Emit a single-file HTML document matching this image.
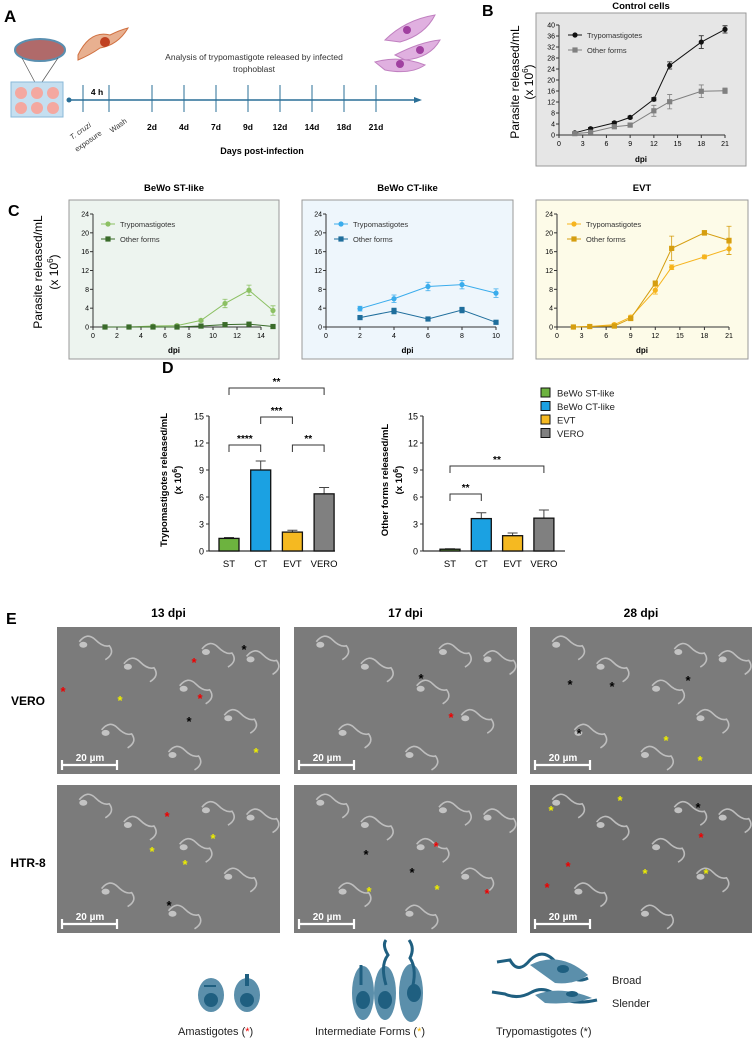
<!DOCTYPE html>
<html><head><meta charset="utf-8">
<style>
html,body{margin:0;padding:0;background:#fff;}
svg{display:block;font-family:"Liberation Sans",Arial,sans-serif;}
</style></head>
<body>
<svg id="fig" width="752" height="1040" viewBox="0 0 752 1040" xmlns="http://www.w3.org/2000/svg">
<!-- Panel A -->
<g>
<text x="4" y="22" font-size="17" font-weight="bold">A</text>
<ellipse cx="40" cy="50" rx="25" ry="11" fill="#b06a6a" stroke="#5a8fb0" stroke-width="2"/>
<line x1="22" y1="58" x2="38" y2="88" stroke="#555" stroke-width="0.7"/>
<line x1="58" y1="58" x2="38" y2="88" stroke="#555" stroke-width="0.7"/>
<rect x="11" y="82" width="52" height="35" fill="#c5dff0" stroke="#8ab8d8"/>
<g fill="#f4a8a0">
<circle cx="21" cy="93" r="6"/><circle cx="37" cy="93" r="6"/><circle cx="53" cy="93" r="6"/>
<circle cx="21" cy="108" r="6"/><circle cx="37" cy="108" r="6"/><circle cx="53" cy="108" r="6"/>
</g>
<path d="M78 55 Q90 30 110 35 Q120 30 128 28 Q118 45 100 48 Q90 55 78 60 Z" fill="#e8b090" stroke="#d07040"/>
<circle cx="105" cy="42" r="5" fill="#c04020"/>
<g fill="#e0b0e0" stroke="#c080c0">
<path d="M385 40 Q405 20 435 15 Q425 35 400 42 Z"/>
<path d="M395 55 Q420 42 440 40 Q430 58 405 60 Z"/>
<path d="M375 62 Q400 55 425 65 Q410 75 385 70 Z"/>
</g>
<g fill="#a040a0"><circle cx="407" cy="30" r="4"/><circle cx="420" cy="50" r="4"/><circle cx="400" cy="64" r="4"/></g>
<text x="254" y="60" font-size="8.5" text-anchor="middle" fill="#333">Analysis of trypomastigote released by infected</text>
<text x="254" y="72" font-size="8.5" text-anchor="middle" fill="#333">trophoblast</text>
<line x1="69" y1="100" x2="418" y2="100" stroke="#2a6f97" stroke-width="1.5"/>
<path d="M422 100 L414 97 L414 103 Z" fill="#2a6f97"/>
<circle cx="69" cy="100" r="2.5" fill="#2a6f97"/>
<g id="aticks"></g>
<text x="97" y="95" font-size="8.5" font-weight="bold" text-anchor="middle">4 h</text>
<text transform="translate(72,140) rotate(-35)" font-size="7.5" font-style="italic" fill="#333">T. cruzi</text>
<text transform="translate(77,152) rotate(-35)" font-size="7.5" fill="#333">exposure</text>
<text transform="translate(112,133) rotate(-35)" font-size="7.5" fill="#333">Wash</text>
<text x="262" y="154" font-size="9" font-weight="bold" text-anchor="middle">Days post-infection</text>
</g>
<text x="482" y="16" font-size="16" font-weight="bold">B</text>
<text x="8" y="216" font-size="16" font-weight="bold">C</text>
<text x="162" y="373" font-size="16" font-weight="bold">D</text>
<text x="6" y="624" font-size="16" font-weight="bold">E</text>
<g id="charts"></g>
<g id="sem"></g>
<!-- Bottom legend schematic -->
<g fill="#5b8fab">
<ellipse cx="211" cy="995" rx="13" ry="17"/><ellipse cx="247" cy="995" rx="13" ry="17"/>
<g fill="#1f5f80"><circle cx="211" cy="1000" r="7"/><circle cx="247" cy="1000" r="7"/>
<rect x="204" y="985" width="12" height="2"/><rect x="245" y="974" width="4" height="12"/></g>
<ellipse cx="363" cy="993" rx="11" ry="27"/><ellipse cx="385" cy="993" rx="11" ry="27"/><ellipse cx="411" cy="993" rx="12" ry="29"/>
<g fill="#1f5f80"><ellipse cx="363" cy="1000" rx="7" ry="9"/><ellipse cx="385" cy="1000" rx="7" ry="9"/><ellipse cx="414" cy="993" rx="7" ry="9"/></g>
<g stroke="#1f5f80" stroke-width="3" fill="none">
<path d="M361 985 L361 965"/><path d="M386 985 Q380 965 388 955 Q382 945 386 940"/><path d="M411 993 Q418 970 410 958 Q415 948 409 940"/>
<path d="M497 962 L510 960 Q518 975 530 960 Q545 945 560 968 Q575 985 588 978"/>
<path d="M492 992 L505 994 Q518 1000 532 992 Q545 985 560 998 Q575 1005 597 1000"/>
</g>
<path d="M530 965 Q560 950 588 975 Q575 985 555 983 Z"/>
<path d="M535 995 Q560 985 592 998 Q570 1005 545 1003 Z"/>
<g fill="#1f5f80"><ellipse cx="563" cy="969" rx="6" ry="4"/><ellipse cx="572" cy="994" rx="6" ry="3"/></g>
</g>
<text x="612" y="984" font-size="11" fill="#222">Broad</text>
<text x="612" y="1007" font-size="11" fill="#222">Slender</text>
<text x="178" y="1035" font-size="11" fill="#222">Amastigotes (<tspan fill="#e00">*</tspan>)</text>
<text x="315" y="1035" font-size="11" fill="#222">Intermediate Forms (<tspan fill="#f0b000">*</tspan>)</text>
<text x="496" y="1035" font-size="11" fill="#222">Trypomastigotes (*)</text>
</svg>
<script>
// ---- Panel A timeline data
const aTickLabels = ["2d","4d","7d","9d","12d","14d","18d","21d"];
// ---- Panel B data
const bDays = [2,4,7,9,12,14,18,21];
const bTryp = [0.8,2.3,4.4,6.4,13,25.3,33.8,38.4];
const bTrypErr = [0.3,0.4,0.5,0.5,0.6,1.3,2.3,1.3];
const bOther = [0.5,1.0,3.0,3.6,8.8,12.1,15.9,16.1];
const bOtherErr = [0.2,0.3,0.5,0.4,2.0,2.6,2.3,1.0];
const bXTicks = [0,3,6,9,12,15,18,21];
const bYTicks = [0,4,8,12,16,20,24,28,32,36,40];
// ---- Panel C data
const stDays = [1,3,5,7,9,11,13,15];
const stTryp = [0,0,0.2,0.3,1.4,5.0,7.8,3.5];
const stTrypErr = [0,0,0.1,0.2,0.3,0.9,1.1,1.0];
const stOther = [0,0,0,0,0.2,0.5,0.6,0.1];
const stOtherErr = [0,0,0,0,0.1,0.2,0.3,0.1];
const stXTicks = [0,2,4,6,8,10,12,14];
const ctDays = [2,4,6,8,10];
const ctTryp = [3.9,6.0,8.6,9.0,7.2];
const ctTrypErr = [0.5,0.8,0.9,0.9,0.9];
const ctOther = [2.0,3.4,1.7,3.6,1.0];
const ctOtherErr = [0.3,0.6,0.3,0.6,0.3];
const ctXTicks = [0,2,4,6,8,10];
const evtDays = [2,4,7,9,12,14,18,21];
const evtTryp = [0,0.1,0.5,2.1,7.8,12.7,14.9,16.6];
const evtTrypErr = [0,0,0.3,0.4,0.8,0.5,0.4,1.2];
const evtOther = [0,0.1,0.2,1.8,9.3,16.7,20.0,18.4];
const evtOtherErr = [0,0,0,0.3,0.5,2.6,0.5,3.0];
const evtXTicks = [0,3,6,9,12,15,18,21];
const cYTicks = [0,4,8,12,16,20,24];
// ---- Panel D data
const dCategories = ["ST","CT","EVT","VERO"];
const dTryp = [1.4,9.0,2.1,6.35];
const dTrypErr = [0.1,1.0,0.2,0.7];
const dOther = [0.2,3.6,1.7,3.65];
const dOtherErr = [0.05,0.65,0.3,0.9];
const dYTicks = [0,3,6,9,12,15];
const dLegend = ["BeWo ST-like","BeWo CT-like","EVT","VERO"];

const NS="http://www.w3.org/2000/svg";
function mk(parent,tag,attrs,text){const e=document.createElementNS(NS,tag);for(const k in attrs)e.setAttribute(k,attrs[k]);if(text!==undefined)e.textContent=text;parent.appendChild(e);return e;}

// Timeline ticks
(function(){
  const g=document.getElementById('aticks');
  const xs=[83,109];
  xs.forEach(x=>{const l=mk(g,'line',{x1:x,y1:85,x2:x,y2:112,stroke:'#2a6f97','stroke-width':1});
    
    });
  const x0=152,step=(376-152)/7;
  aTickLabels.forEach((t,i)=>{const x=x0+i*step;
    const l=mk(g,'line',{x1:x,y1:85,x2:x,y2:112,stroke:'#2a6f97','stroke-width':1});
    
    
    const tx=mk(g,'text',{x:x,y:130,'font-size':8.5,'font-weight':'bold','text-anchor':'middle'},t);
    
    });
})();

const charts=document.getElementById('charts');

function lineChart(o){
  const g=mk(charts,'g',{});
  
  
  const bg=mk(g,'rect',{x:o.box[0],y:o.box[1],width:o.box[2],height:o.box[3],fill:o.bg,stroke:'#999','stroke-width':1});
  
  
  const sx=v=>o.x0+(v-o.xmin)/(o.xmax-o.xmin)*(o.x1-o.x0);
  const sy=v=>o.y0-(v-o.ymin)/(o.ymax-o.ymin)*(o.y0-o.y1);
  const ax=mk(g,'line',{x1:o.x0,y1:o.y0,x2:sx(o.xTicks[o.xTicks.length-1]),y2:o.y0,stroke:'#333'});
  
  
  const ay=mk(g,'line',{x1:o.x0,y1:o.y0,x2:o.x0,y2:sy(o.yTicks[o.yTicks.length-1]),stroke:'#333'});
  
  
  o.xTicks.forEach(t=>{mk(g,'line',{x1:sx(t),y1:o.y0,x2:sx(t),y2:o.y0+3,stroke:'#333'});
    const tx=mk(g,'text',{x:sx(t),y:o.y0+11,'font-size':7,'text-anchor':'middle'},t);
    
    });
  o.yTicks.forEach(t=>{mk(g,'line',{x1:o.x0-3,y1:sy(t),x2:o.x0,y2:sy(t),stroke:'#333'});
    const tx=mk(g,'text',{x:o.x0-4,y:sy(t)+2.5,'font-size':7,'text-anchor':'end'},t);
    
    });
  const xt=mk(g,'text',{x:(o.box[0]+o.box[0]+o.box[2])/2,y:o.dpiY,'font-size':8,'font-weight':'bold','text-anchor':'middle'},'dpi');
  
  
  const tt=mk(g,'text',{x:(o.box[0]+o.box[0]+o.box[2])/2,y:o.titleY,'font-size':9.5,'font-weight':'bold','text-anchor':'middle'},o.title);
  
  
  o.series.forEach((s,si)=>{
    const sg=mk(g,'g',{});
    
    
    const pts=s.x.map((d,i)=>sx(d)+','+sy(s.y[i])).join(' ');
    mk(sg,'polyline',{points:pts,fill:'none',stroke:s.color,'stroke-width':1});
    s.x.forEach((d,i)=>{
      const e=s.err[i];
      if(e>0){const eb=mk(sg,'path',{d:`M${sx(d)} ${sy(s.y[i]-e)}V${sy(s.y[i]+e)}M${sx(d)-2.5} ${sy(s.y[i]+e)}h5M${sx(d)-2.5} ${sy(s.y[i]-e)}h5`,stroke:s.color,'stroke-width':0.8,fill:'none'});
        
        }
      let m;
      if(s.shape==='circle') m=mk(sg,'circle',{cx:sx(d),cy:sy(s.y[i]),r:2.6,fill:s.color});
      else m=mk(sg,'rect',{x:sx(d)-2.6,y:sy(s.y[i])-2.6,width:5.2,height:5.2,fill:s.color});
      
      
    });
    const ly=o.legY+si*15;
    mk(sg,'line',{x1:o.legX-7,y1:ly,x2:o.legX+7,y2:ly,stroke:s.color});
    if(s.shape==='circle') mk(sg,'circle',{cx:o.legX,cy:ly,r:2.6,fill:s.color});
    else mk(sg,'rect',{x:o.legX-2.6,y:ly-2.6,width:5.2,height:5.2,fill:s.color});
    const lt=mk(sg,'text',{x:o.legX+12,y:ly+3,'font-size':7.5,fill:'#333'},s.label);
    
    
  });
}

lineChart({name:'control-cells-chart',box:[536,13,210,153],bg:'#e6e6e6',x0:559,x1:725,xmin:0,xmax:21,y0:135,y1:25,ymin:0,ymax:40,
  xTicks:bXTicks,yTicks:bYTicks,dpiY:162,titleY:9,title:'Control cells',legX:575,legY:35,
  series:[{key:'trypomastigotes',x:bDays,y:bTryp,err:bTrypErr,color:'#111',shape:'circle',label:'Trypomastigotes'},
          {key:'other-forms',x:bDays,y:bOther,err:bOtherErr,color:'#808080',shape:'square',label:'Other forms'}]});
lineChart({name:'bewo-st-like-chart',box:[69,200,210,159],bg:'#edf4ef',x0:93,x1:261,xmin:0,xmax:14,y0:327,y1:214,ymin:0,ymax:24,
  xTicks:stXTicks,yTicks:cYTicks,dpiY:353,titleY:191,title:'BeWo ST-like',legX:108,legY:224,
  series:[{key:'trypomastigotes',x:stDays,y:stTryp,err:stTrypErr,color:'#8cc063',shape:'circle',label:'Trypomastigotes'},
          {key:'other-forms',x:stDays,y:stOther,err:stOtherErr,color:'#3a6b2a',shape:'square',label:'Other forms'}]});
lineChart({name:'bewo-ct-like-chart',box:[302,200,211,159],bg:'#eef6fc',x0:326,x1:496,xmin:0,xmax:10,y0:327,y1:214,ymin:0,ymax:24,
  xTicks:ctXTicks,yTicks:cYTicks,dpiY:353,titleY:191,title:'BeWo CT-like',legX:341,legY:224,
  series:[{key:'trypomastigotes',x:ctDays,y:ctTryp,err:ctTrypErr,color:'#3aacec',shape:'circle',label:'Trypomastigotes'},
          {key:'other-forms',x:ctDays,y:ctOther,err:ctOtherErr,color:'#1f6e9c',shape:'square',label:'Other forms'}]});
lineChart({name:'evt-chart',box:[536,200,212,159],bg:'#fdfbe8',x0:557,x1:729,xmin:0,xmax:21,y0:327,y1:214,ymin:0,ymax:24,
  xTicks:evtXTicks,yTicks:cYTicks,dpiY:353,titleY:191,title:'EVT',legX:574,legY:224,
  series:[{key:'trypomastigotes',x:evtDays,y:evtTryp,err:evtTrypErr,color:'#f6b41e',shape:'circle',label:'Trypomastigotes'},
          {key:'other-forms',x:evtDays,y:evtOther,err:evtOtherErr,color:'#d59e10',shape:'square',label:'Other forms'}]});

// Y-axis titles
function rotText(x,y,size,txt,name,bold){const t=mk(charts,'text',{transform:`translate(${x},${y}) rotate(-90)`,'font-size':size,'text-anchor':'middle','font-weight':bold?'bold':'normal'});
  t.innerHTML=txt;
  
  }
rotText(519,82,12,'Parasite released/mL','control-y-axis-title');
rotText(533,82,12,'(x 10<tspan font-size="8" dy="-5">6</tspan><tspan dy="5">)</tspan>','control-y-axis-unit');
rotText(42,272,12,'Parasite released/mL','c-y-axis-title');
rotText(58,272,12,'(x 10<tspan font-size="8" dy="-5">6</tspan><tspan dy="5">)</tspan>','c-y-axis-unit');
rotText(167,480,9.5,'Trypomastigotes released/mL','d-left-y-axis-title',true);
rotText(181,480,9.5,'(x 10<tspan font-size="7" dy="-4">6</tspan><tspan dy="4">)</tspan>','d-left-y-axis-unit',true);
rotText(388,480,9.5,'Other forms released/mL','d-right-y-axis-title',true);
rotText(402,480,9.5,'(x 10<tspan font-size="7" dy="-4">6</tspan><tspan dy="4">)</tspan>','d-right-y-axis-unit',true);

// Bar charts
const barColors=['#6db33f','#1ba1e2','#f5b921','#808080'];
function barChart(o){
  const g=mk(charts,'g',{});
  
  
  const sy=v=>551-v/15*135;
  const sx=i=>o.cx0+i*o.step;
  const ax=mk(g,'line',{x1:o.ax,y1:551,x2:o.ax+o.w,y2:551,stroke:'#333','stroke-width':1.2});
  
  
  const ay=mk(g,'line',{x1:o.ax,y1:551,x2:o.ax,y2:416,stroke:'#333','stroke-width':1.2});
  
  
  dYTicks.forEach(t=>{mk(g,'line',{x1:o.ax-3,y1:sy(t),x2:o.ax,y2:sy(t),stroke:'#333'});
    const tx=mk(g,'text',{x:o.ax-5,y:sy(t)+3.5,'font-size':9,'text-anchor':'end'},t);
    
    });
  dCategories.forEach((c,i)=>{
    const x=sx(i),v=o.vals[i],e=o.errs[i];
    const eb=mk(g,'path',{d:`M${x} ${sy(v)}V${sy(v+e)}M${x-5} ${sy(v+e)}h10`,stroke:'#444','stroke-width':1,fill:'none'});
    
    
    const b=mk(g,'rect',{x:x-10,y:sy(v),width:20,height:551-sy(v),fill:barColors[i],stroke:'#111','stroke-width':1.3});
    
    
    const tx=mk(g,'text',{x:x,y:567,'font-size':9.5,'text-anchor':'middle'},c);
    
    
  });
  o.sig.forEach(s=>{
    const [a,b,y,label]=s;
    const p=mk(g,'path',{d:`M${sx(a)} ${y+7}V${y}H${sx(b)}V${y+7}`,stroke:'#333',fill:'none','stroke-width':1});
    
    
    const t=mk(g,'text',{x:(sx(a)+sx(b))/2,y:y-3,'font-size':10,'font-weight':'bold','text-anchor':'middle'},label);
    
    
  });
}
barChart({name:'trypomastigotes-bar-chart',ax:209,w:126,cx0:229,step:31.7,vals:dTryp,errs:dTrypErr,
  sig:[[0,3,388,'**'],[1,2,417,'***'],[0,1,445,'****'],[2,3,445,'**']]});
barChart({name:'other-forms-bar-chart',ax:423,w:142,cx0:450,step:31.3,vals:dOther,errs:dOtherErr,
  sig:[[0,3,466,'**'],[0,1,494,'**']]});
dLegend.forEach((l,i)=>{
  const y=393+i*13.5;
  const r=mk(charts,'rect',{x:541,y:y-5,width:9,height:9,fill:barColors[i],stroke:'#111'});
  
  
  const t=mk(charts,'text',{x:557,y:y+3.5,'font-size':9.5,fill:'#222'},l);
  
  
});

// SEM images (panel E)
const sem=document.getElementById('sem');
const cols=[[57,223],[294,223],[530,222]];
const rows=[[627,147],[785,148]];
const colTitles=['13 dpi','17 dpi','28 dpi'];
colTitles.forEach((t,i)=>{const tx=mk(sem,'text',{x:cols[i][0]+cols[i][1]/2,y:617,'font-size':12,'font-weight':'bold','text-anchor':'middle'},t);
  
  });
[['VERO',705],['HTR-8',867]].forEach(r=>{const tx=mk(sem,'text',{x:28,y:r[1],'font-size':12,'font-weight':'bold','text-anchor':'middle'},r[0]);
  
  });
const stars=[
 [[244,649,'#000'],[194,662,'#e00'],[63,691,'#e00'],[120,700,'#ee0'],[200,698,'#e00'],[189,721,'#000'],[256,752,'#ee0'],
  [421,678,'#000'],[451,717,'#e00'],
  [570,684,'#000'],[612,686,'#000'],[688,680,'#000'],[579,733,'#000'],[666,740,'#ee0'],[700,760,'#ee0']],
 [[167,816,'#e00'],[213,838,'#ee0'],[152,851,'#ee0'],[185,864,'#ee0'],[169,905,'#000'],
  [436,846,'#e00'],[366,854,'#000'],[412,872,'#000'],[369,891,'#ee0'],[437,889,'#ee0'],[487,893,'#e00'],
  [551,810,'#ee0'],[620,800,'#ee0'],[698,807,'#000'],[701,837,'#e00'],[568,866,'#e00'],[547,887,'#e00'],[645,873,'#ee0'],[706,873,'#ee0']]
];
rows.forEach((r,ri)=>cols.forEach((c,ci)=>{
  const g=mk(sem,'g',{});
  
  
  mk(g,'rect',{x:c[0],y:r[0],width:c[1],height:r[1],fill:ri===1&&ci===2?'#6e6e6e':'#7b7b7b'});
  // parasite-like squiggles (decorative)
  const ps=[[0.1,0.1],[0.3,0.25],[0.55,0.4],[0.75,0.6],[0.2,0.7],[0.85,0.2],[0.5,0.85],[0.65,0.15]];
  ps.forEach((p,k)=>{const x=c[0]+p[0]*c[1],y=r[0]+p[1]*r[1];
    mk(g,'path',{d:`M${x} ${y} q8 -10 16 -2 t14 6 q6 8 -4 14`,stroke:'#cfcfcf','stroke-width':1.6,fill:'none',opacity:0.8});
    mk(g,'ellipse',{cx:x+4,cy:y+3,rx:4,ry:3,fill:'#d6d6d6',opacity:0.8});});
  const by=r[0]+r[1]-9,bx=c[0]+5;
  const sb=mk(g,'path',{d:`M${bx} ${by-5}v10M${bx} ${by}h55M${bx+55} ${by-5}v10`,stroke:'#fff','stroke-width':2.2,fill:'none'});
  
  
  const st=mk(g,'text',{x:bx+28,y:by-4,'font-size':10,'font-weight':'bold',fill:'#fff','text-anchor':'middle'},'20 µm');
  
  
}));
stars.flat().forEach(s=>{const t=mk(sem,'text',{x:s[0],y:s[1]+5,'font-size':13,'font-weight':'bold',fill:s[2],'text-anchor':'middle'},'*');
  
  });
</script>
</body></html>
